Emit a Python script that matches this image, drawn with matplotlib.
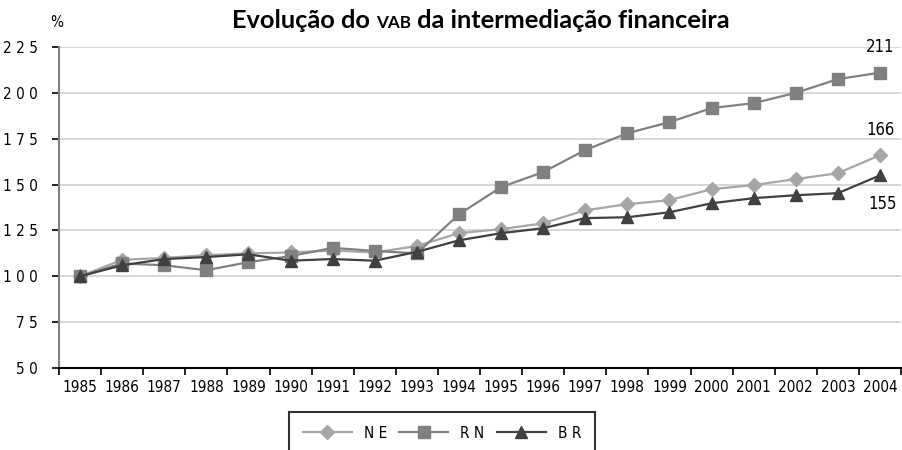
import matplotlib
matplotlib.use('Agg')
import matplotlib.pyplot as plt
import numpy as np

plt.rcParams['font.family'] = ['DejaVu Sans']
plt.rcParams['font.stretch'] = 'condensed'

years = list(range(1985, 2005))
ne = [100, 109, 110, 111.5, 112.5, 113, 114, 113, 116.5, 123.5, 125.7, 128.9, 136, 139.3, 141.5, 147.5, 149.7, 153, 156.2, 166]
rn = [100, 107, 106, 103.3, 107.7, 111, 115.5, 113.8, 112.5, 133.8, 148.6, 156.8, 168.8, 178, 184, 191.7, 194.4, 200, 207.5, 211]
br = [100, 106, 109.4, 110.5, 112, 108.5, 109.4, 108.5, 113.3, 119.6, 123.5, 126.2, 131.7, 132.2, 134.9, 139.8, 142.6, 144.2, 145.3, 155]
yticks = [50, 75, 100, 125, 150, 175, 200, 225]

fig = plt.figure(figsize=(9.02, 4.5), dpi=100)
ax = fig.add_axes([59/902, 1-368/450, 842/902, 321/450])

x = np.arange(len(years))
ax.plot(x, ne, color='#a6a6a6', marker='D', markersize=7, lw=1.6, label='N E', zorder=3)
ax.plot(x, rn, color='#808080', marker='s', markersize=8, lw=1.6, label='R N', zorder=3)
ax.plot(x, br, color='#404040', marker='^', markersize=9, lw=1.6, label='B R', zorder=4)

ax.set_xlim(-0.5, len(years) - 0.5)
ax.set_ylim(50, 225)
ax.set_yticks(yticks)
ax.set_yticklabels([' '.join(str(v)) for v in yticks], fontsize=11)
ax.set_xticks(x)
ax.set_xticklabels([str(y) for y in years], fontsize=11)
ax.set_xticks(np.arange(len(years) + 1) - 0.5, minor=True)
ax.tick_params(axis='x', which='major', length=0, pad=9)
ax.tick_params(axis='x', which='minor', length=5, width=1.2, color='black', direction='out')
ax.tick_params(axis='y', length=5, width=1.2, color='black', pad=10)

ax.grid(axis='y', color='#d0d0d0', lw=1.2, zorder=0)
ax.set_axisbelow(True)
for s in ['top', 'right']:
    ax.spines[s].set_visible(False)
ax.spines['left'].set_color('#808080')
ax.spines['left'].set_linewidth(1.5)
ax.spines['bottom'].set_color('black')
ax.spines['bottom'].set_linewidth(1.5)

ax.annotate(str(rn[-1]), (x[-1], rn[-1]), xytext=(0, 12), textcoords='offset points', ha='center', va='bottom', fontsize=12)
ax.annotate(str(ne[-1]), (x[-1], ne[-1]), xytext=(0, 12), textcoords='offset points', ha='center', va='bottom', fontsize=12)
ax.annotate(str(br[-1]), (x[-1], br[-1]), xytext=(2, -14), textcoords='offset points', ha='center', va='top', fontsize=12)

fig.text(50/902, 1-30/450, '%', fontsize=11, ha='left', va='bottom')

# title, with VAB in small caps
tfont = dict(fontweight='bold', va='baseline', family=['Lato', 'DejaVu Sans'], stretch='normal')
ty = 1 - 28/450
fig.canvas.draw()
r = fig.canvas.get_renderer()
pieces = [('Evolução do ', 18.3), ('VAB', 12.3), (' da intermediação financeira', 18.3)]
xpos = 232
for txt, fs in pieces:
    t = fig.text(xpos/902, ty, txt, fontsize=fs, **tfont)
    xpos = t.get_window_extent(renderer=r).x1

leg = fig.legend(loc='center', bbox_to_anchor=(442/902, 1-433/450), ncol=3, fontsize=11, frameon=True,
                 fancybox=False, edgecolor='black', handlelength=3.2, columnspacing=0.8, borderpad=0.9)
leg.get_frame().set_linewidth(1.5)

fig.savefig('out.png', dpi=100)
